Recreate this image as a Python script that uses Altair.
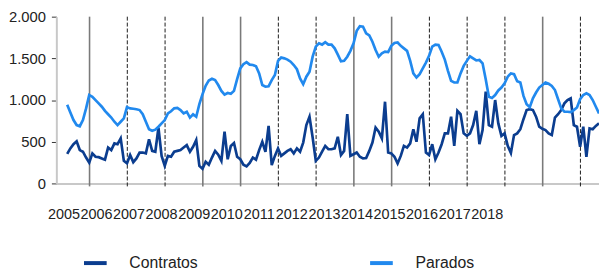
import altair as alt
import pandas as pd

series_names = ["Contratos", "Parados"]
series_colors = ["#0b3d8f", "#2189ee"]

contratos = [355, 420, 470, 505, 400, 380, 310, 250, 360, 320, 315, 300, 285, 430, 400, 480, 470, 540, 270, 240,
             340, 255, 300, 370, 370, 360, 530, 390, 380, 670, 330, 210, 330, 320, 380, 390, 400, 430, 460, 380,
             440, 520, 210, 175, 260, 225, 310, 390, 345, 270, 620, 290, 450, 485, 320, 290, 225, 205, 245, 310,
             285, 400, 500, 380, 690, 220, 330, 420, 330, 360, 390, 410, 360, 420, 380, 490, 700, 800, 550, 270,
             310, 380, 450, 410, 410, 420, 560, 340, 390, 830, 330, 350, 370, 320, 300, 305, 390, 490, 670, 620,
             540, 980, 370, 360, 320, 240, 330, 450, 430, 480, 650, 500, 780, 830, 370, 340, 470, 290, 370, 470,
             600, 600, 800, 450, 870, 830, 600, 570, 600, 700, 870, 470, 640, 1100, 700, 680, 1000, 720, 570, 600,
             450, 365, 580, 600, 650, 770, 880, 890, 880, 800, 680, 655, 640, 600, 580, 790, 830, 880, 960, 1000,
             1020, 700, 680, 440, 680, 320, 660, 650, 690, 720]

parados = [943, 850, 760, 700, 686, 760, 900, 1060, 1040, 1000, 960, 920, 870, 830, 790, 740, 700, 740, 780, 915,
           900, 895, 890, 880, 830, 740, 650, 632, 645, 680, 720, 760, 840, 865, 900, 905, 880, 840, 860, 790,
           830, 800, 950, 1070, 1170, 1235, 1255, 1240, 1180, 1110, 1065, 1085, 1075, 1110, 1250, 1380, 1430, 1455, 1425, 1420,
           1405, 1320, 1180, 1160, 1165, 1240, 1300, 1470, 1510, 1500, 1485, 1460, 1420, 1370, 1260, 1190, 1280, 1340, 1520, 1640,
           1680, 1665, 1695, 1665, 1665, 1620, 1545, 1465, 1470, 1520, 1590, 1680, 1830, 1885, 1880, 1800, 1775, 1700, 1600, 1520,
           1560, 1580, 1575, 1650, 1685, 1690, 1650, 1620, 1590, 1470, 1320, 1270, 1310, 1380, 1450, 1530, 1640, 1665, 1660, 1580,
           1485, 1350, 1230, 1210, 1210, 1320, 1410, 1470, 1525, 1500, 1475, 1480, 1440, 1250, 1040, 1025, 1060, 1115, 1150, 1200,
           1280, 1320, 1310, 1225, 1210, 1050, 950, 915, 1020, 1090, 1150, 1180, 1210, 1195, 1170, 1120, 1010, 900, 860, 860,
           855, 880, 910, 1010, 1060, 1080, 1060, 1000, 920, 840]

years = list(range(2005, 2019))
y_ticks = [0, 500, 1000, 1500, 2000]

# month positions of the vertical reference lines
solid_marks = [7.1, 43.1, 55.1, 91.1, 103.1, 151.1]
dashed_marks = [19.1, 31.1, 67.1, 79.1, 115.1, 127.1, 139.1, 163.1]

rows = []
for i, (c, p) in enumerate(zip(contratos, parados)):
    rows.append({"mes": i, "serie": "Contratos", "valor": c})
    rows.append({"mes": i, "serie": "Parados", "valor": p})
df = pd.DataFrame(rows)

FONT = "Liberation Sans"
W, H = 550, 169

xscale = alt.Scale(domain=[-3.45, 169.0], nice=False, zero=False)
yscale = alt.Scale(domain=[0, 2000], nice=False)

solid = alt.Chart(pd.DataFrame({"mes": solid_marks})).mark_rule(
    color="#7a7a7a", strokeWidth=1.6
).encode(
    x=alt.X("mes:Q", scale=xscale, axis=None),
    y=alt.value(0), y2=alt.value(H + 3),
)

dashed = alt.Chart(pd.DataFrame({"mes": dashed_marks})).mark_rule(
    color="#1a1a1a", strokeWidth=1, strokeDash=[4, 2]
).encode(
    x=alt.X("mes:Q", scale=xscale, axis=None),
    y=alt.value(0), y2=alt.value(H + 3),
)

lines = alt.Chart(df).mark_line(strokeWidth=2.7, clip=True).encode(
    x=alt.X("mes:Q", scale=xscale, axis=None),
    y=alt.Y("valor:Q", scale=yscale, axis=alt.Axis(
        values=y_ticks, title=None, grid=False,
        labelExpr="replace(format(datum.value, ','), ',', '.')",
        tickSize=5, tickColor="#333333", tickWidth=1,
        domainColor="#c8c8c8", domainWidth=2,
        labelFont=FONT, labelFontSize=15, labelColor="#222222", labelPadding=6,
    )),
    color=alt.Color("serie:N", scale=alt.Scale(domain=series_names, range=series_colors),
                    legend=alt.Legend(
                        title=None, orient="none", legendX=26, legendY=236,
                        direction="horizontal", symbolType="stroke", symbolSize=529,
                        symbolStrokeWidth=4, labelFont=FONT, labelFontSize=16,
                        labelColor="#222222", labelOffset=21, columnPadding=166, padding=0,
                    )),
    order=alt.Order("mes:Q"),
)

year_axis = alt.Chart(pd.DataFrame({"year": years})).mark_point(opacity=0).encode(
    x=alt.X("year:Q", scale=alt.Scale(domain=[2004.782, 2021.449], nice=False, zero=False),
            axis=alt.Axis(values=years, format="d", title=None, grid=False, ticks=False,
                          domainColor="#c8c8c8", domainWidth=2, orient="bottom",
                          labelFont=FONT, labelFontSize=14.6, labelColor="#222222",
                          labelPadding=24, labelOverlap=False, labelFlush=False, labelBound=False)),
)

chart = alt.layer(solid, dashed, lines, year_axis).resolve_scale(x="independent").properties(
    width=W, height=H, padding=0
).configure_view(stroke=None)

chart.save("out.html", embed_options={"renderer": "svg", "actions": False})
